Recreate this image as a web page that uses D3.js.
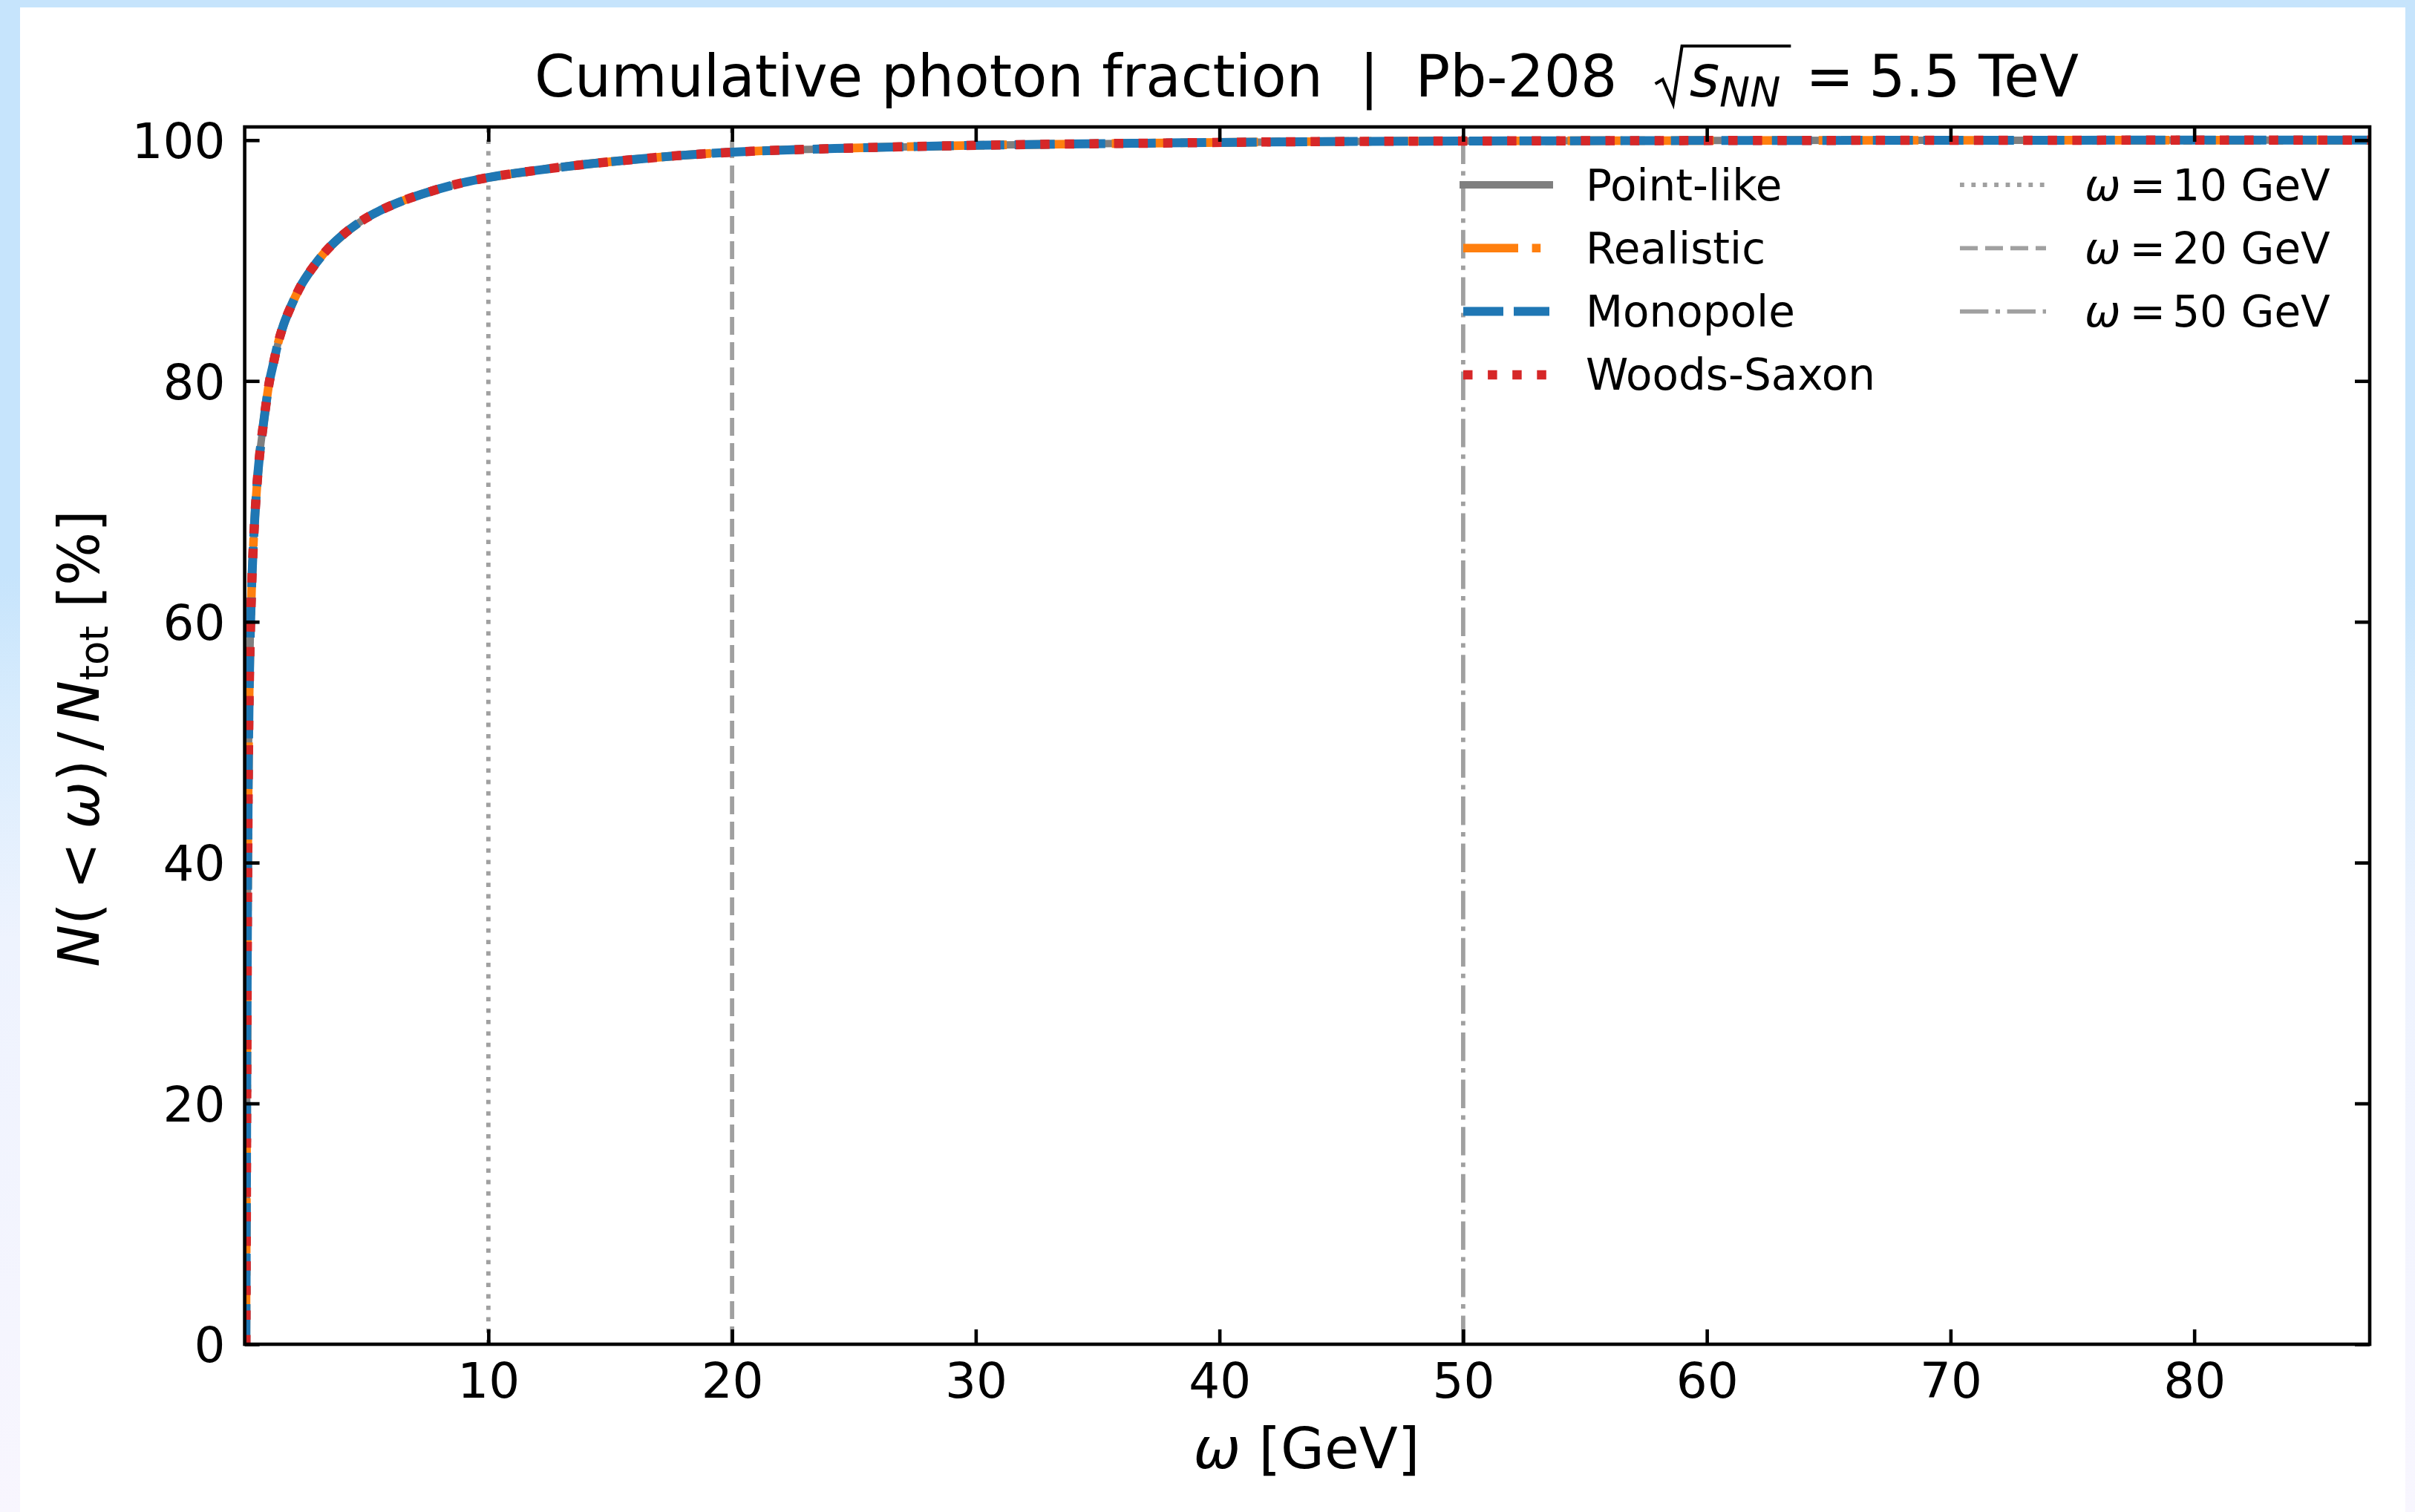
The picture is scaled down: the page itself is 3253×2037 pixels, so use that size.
<!DOCTYPE html>
<html>
<head>
<meta charset="utf-8">
<script src="https://cdn.jsdelivr.net/npm/d3@7"></script>
<style>
  body { margin: 0; overflow: hidden; }
  svg { display: block; font-family: "DejaVu Sans", sans-serif; }
</style>
</head>
<body>
<div id="chart"></div>
<script>
// values
const omega = [0.05, 0.07, 0.09, 0.11, 0.13, 0.16, 0.2, 0.25, 0.3, 0.36,
  0.44, 0.52, 0.62, 0.74, 0.87, 1.0, 1.15, 1.35, 1.6, 1.9,
  2.3, 2.75, 3.25, 3.95, 4.8, 5.6, 6.4, 7.4, 8.6, 10,
  12, 14, 16, 18, 20, 25, 30, 37, 44, 52,
  60, 70, 80, 87.2];

const pointLike = [0, 12, 24, 34, 42, 50, 56, 60.5, 63.8, 66.6,
  69.5, 71.8, 74.0, 76.0, 78.0, 79.8, 81.2, 83.0, 84.7, 86.2,
  87.9, 89.3, 90.6, 92.0, 93.3, 94.2, 94.9, 95.6, 96.3, 96.9,
  97.5, 98.0, 98.4, 98.75, 99.0, 99.35, 99.57, 99.75, 99.88, 99.94,
  99.97, 99.99, 100, 100];

const realistic = [0, 12, 24, 34, 42, 50, 56, 60.5, 63.8, 66.6,
  69.5, 71.8, 74.0, 76.0, 78.0, 79.8, 81.2, 83.0, 84.7, 86.2,
  87.9, 89.3, 90.6, 92.0, 93.3, 94.2, 94.9, 95.6, 96.3, 96.9,
  97.5, 98.0, 98.4, 98.75, 99.0, 99.35, 99.57, 99.75, 99.88, 99.94,
  99.97, 99.99, 100, 100];

const monopole = [0, 12, 24, 34, 42, 50, 56, 60.5, 63.8, 66.6,
  69.5, 71.8, 74.0, 76.0, 78.0, 79.8, 81.2, 83.0, 84.7, 86.2,
  87.9, 89.3, 90.6, 92.0, 93.3, 94.2, 94.9, 95.6, 96.3, 96.9,
  97.5, 98.0, 98.4, 98.75, 99.0, 99.35, 99.57, 99.75, 99.88, 99.94,
  99.97, 99.99, 100, 100];

const woodsSaxon = [0, 12, 24, 34, 42, 50, 56, 60.5, 63.8, 66.6,
  69.5, 71.8, 74.0, 76.0, 78.0, 79.8, 81.2, 83.0, 84.7, 86.2,
  87.9, 89.3, 90.6, 92.0, 93.3, 94.2, 94.9, 95.6, 96.3, 96.9,
  97.5, 98.0, 98.4, 98.75, 99.0, 99.35, 99.57, 99.75, 99.88, 99.94,
  99.97, 99.99, 100, 100];

const seriesNames = ["Point-like", "Realistic", "Monopole", "Woods-Saxon"];
const seriesValues = [pointLike, realistic, monopole, woodsSaxon];

const refOmega = [10, 20, 50];
const refLabels = ["10", "20", "50"];

const xTicks = [10, 20, 30, 40, 50, 60, 70, 80];
const yTicks = [0, 20, 40, 60, 80, 100];
const xDomain = [0, 87.2];
const yDomain = [0, 101.1];

// styles
const seriesStyle = [
  {color: "#7f7f7f", width: 10, dash: null},
  {color: "#ff7f0e", width: 11.6, dash: "74 18.6 11.6 18.6"},
  {color: "#1f77b4", width: 12, dash: "54 14"},
  {color: "#d62728", width: 12.5, dash: "12.5 20.6"}
];
const refStyle = [
  {dash: "5.8 9.6"},
  {dash: "24 10"},
  {dash: "38.4 9.6 6 9.6"}
];

const W = 3253, H = 2037;
const plot = {left: 329.6, right: 3192, top: 171, bottom: 1811};

const svg = d3.select("#chart").append("svg")
  .attr("width", W)
  .attr("height", H);

// page background + white picture panel
const defs = svg.append("defs");
const grad = defs.append("linearGradient")
  .attr("id", "bg").attr("x1", 0).attr("y1", 0).attr("x2", 0).attr("y2", 1);
[[0, "#c6e4fc"], [0.38, "#c6e4fc"], [0.47, "#d8ecfd"], [0.62, "#eef3fe"], [1, "#f8f6fe"]]
  .forEach(s => grad.append("stop").attr("offset", s[0]).attr("stop-color", s[1]));

svg.append("rect").attr("width", W).attr("height", H).attr("fill", "url(#bg)");
svg.append("rect").attr("x", 27).attr("y", 10).attr("width", 3240 - 27).attr("height", H - 10)
  .attr("fill", "#ffffff");

defs.append("clipPath").attr("id", "plotclip")
  .append("rect")
  .attr("x", plot.left).attr("y", plot.top)
  .attr("width", plot.right - plot.left).attr("height", plot.bottom - plot.top);

// scales
const x = d3.scaleLinear().domain(xDomain).range([plot.left, plot.right]);
const y = d3.scaleLinear().domain(yDomain).range([plot.bottom, plot.top]);

// reference lines
const refGroup = svg.append("g").attr("clip-path", "url(#plotclip)");
refOmega.forEach((w, i) => {
  refGroup.append("path")
    .attr("d", `M${x(w)},${y(yDomain[0])}V${y(yDomain[1])}`)
    .attr("fill", "none")
    .attr("stroke", "#808080")
    .attr("stroke-opacity", 0.75)
    .attr("stroke-width", 5.8)
    .attr("stroke-dasharray", refStyle[i].dash);
});

// curves
const line = d3.line()
  .x(d => x(d[0]))
  .y(d => y(d[1]))
  .curve(d3.curveMonotoneX);

const curveGroup = svg.append("g").attr("clip-path", "url(#plotclip)");
seriesValues.forEach((vals, i) => {
  const pts = omega.map((w, k) => [w, vals[k]]);
  curveGroup.append("path")
    .datum(pts)
    .attr("d", line)
    .attr("fill", "none")
    .attr("stroke", seriesStyle[i].color)
    .attr("stroke-width", seriesStyle[i].width)
    .attr("stroke-dasharray", seriesStyle[i].dash)
    .attr("stroke-linejoin", "round");
});

// axes (ticks pointing inward on all sides)
const tickLen = 20;
function styleAxis(g) {
  g.select(".domain").remove();
  g.selectAll(".tick line").attr("stroke", "#000").attr("stroke-width", 4.6);
  g.selectAll(".tick text").attr("fill", "#000");
  g.attr("font-size", 66).attr("font-family", "DejaVu Sans");
}

svg.append("g")
  .attr("transform", `translate(0,${plot.bottom})`)
  .call(d3.axisBottom(x).tickValues(xTicks).tickSizeInner(-tickLen).tickSizeOuter(0).tickPadding(25))
  .call(styleAxis);

svg.append("g")
  .attr("transform", `translate(0,${plot.top})`)
  .call(d3.axisTop(x).tickValues(xTicks).tickSizeInner(-tickLen).tickSizeOuter(0).tickFormat(""))
  .call(styleAxis);

svg.append("g")
  .attr("transform", `translate(${plot.left},0)`)
  .call(d3.axisLeft(y).tickValues(yTicks).tickSizeInner(-tickLen).tickSizeOuter(0).tickPadding(26))
  .call(styleAxis)
  .selectAll(".tick text").attr("dy", "0.36em");

svg.append("g")
  .attr("transform", `translate(${plot.right},0)`)
  .call(d3.axisRight(y).tickValues(yTicks).tickSizeInner(-tickLen).tickSizeOuter(0).tickFormat(""))
  .call(styleAxis);

// spines
svg.append("rect")
  .attr("x", plot.left).attr("y", plot.top)
  .attr("width", plot.right - plot.left).attr("height", plot.bottom - plot.top)
  .attr("fill", "none")
  .attr("stroke", "#000")
  .attr("stroke-width", 4.6);

// title
const titlePrefix = "Cumulative photon fraction  |  Pb-208  ";
const title = svg.append("text")
  .attr("x", 1760).attr("y", 130)
  .attr("text-anchor", "middle")
  .style("font-size", "77.5px")
  .style("white-space", "pre");
title.append("tspan").text(titlePrefix);
title.append("tspan").attr("dx", 48).style("font-style", "italic").text("s");
title.append("tspan").style("font-style", "italic").style("font-size", "55px").attr("dy", 13).text("NN");
title.append("tspan").attr("dy", -13).attr("dx", 34).text("=");
title.append("tspan").attr("dx", 20).text("5.5 TeV");

// radical sign over s_NN
const tNode = title.node();
const sBox = tNode.getExtentOfChar(titlePrefix.length);
const nBox = tNode.getExtentOfChar(titlePrefix.length + 2);
const r0 = sBox.x - 46;
svg.append("path")
  .attr("d", `M${r0},${113}L${r0 + 10},${107}L${r0 + 24},${140}L${r0 + 36},${62}L${nBox.x + nBox.width + 14},${62}`)
  .attr("fill", "none")
  .attr("stroke", "#000")
  .attr("stroke-width", 4.2)
  .attr("stroke-linejoin", "miter");

// x label
const xl = svg.append("text")
  .attr("x", 1760).attr("y", 1978)
  .attr("text-anchor", "middle")
  .style("font-size", "76px")
  .style("white-space", "pre");
xl.append("tspan").style("font-style", "italic").text("ω");
xl.append("tspan").text(" [GeV]");

// y label
const yl = svg.append("text")
  .attr("transform", "translate(133,995) rotate(-90)")
  .attr("text-anchor", "middle")
  .style("font-size", "76px")
  .style("white-space", "pre");
yl.append("tspan").style("font-style", "italic").text("N");
yl.append("tspan").text("(");
yl.append("tspan").attr("dx", 18).text("<");
yl.append("tspan").attr("dx", 18).style("font-style", "italic").text("ω");
yl.append("tspan").text(")");
yl.append("tspan").attr("dx", 12).text("/");
yl.append("tspan").attr("dx", 12).style("font-style", "italic").text("N");
yl.append("tspan").style("font-size", "53px").attr("dy", 12).text("tot");
yl.append("tspan").attr("dy", -12).text(" [%]");

// legend
const legend = svg.append("g").style("font-size", "58px");
const rowY = i => 249 + i * 85.3;

seriesNames.forEach((name, i) => {
  const st = seriesStyle[i];
  legend.append("path")
    .attr("d", `M1971,${rowY(i)}H2087`)
    .attr("stroke", st.color)
    .attr("stroke-width", st.width)
    .attr("stroke-dasharray", st.dash)
    .attr("stroke-linecap", st.dash ? "butt" : "square");
  legend.append("text")
    .attr("x", 2136).attr("y", rowY(i) + 20.5)
    .text(name);
});

refLabels.forEach((lab, i) => {
  legend.append("path")
    .attr("d", `M2640,${rowY(i)}H2756`)
    .attr("stroke", "#808080")
    .attr("stroke-opacity", 0.75)
    .attr("stroke-width", 5.8)
    .attr("stroke-dasharray", refStyle[i].dash);
  const t = legend.append("text")
    .attr("x", 2808).attr("y", rowY(i) + 20.5)
    .style("white-space", "pre");
  t.append("tspan").style("font-style", "italic").text("ω");
  t.append("tspan").attr("dx", 12).text("=");
  t.append("tspan").attr("dx", 9).text(lab);
  t.append("tspan").text(" GeV");
});
</script>
</body>
</html>
